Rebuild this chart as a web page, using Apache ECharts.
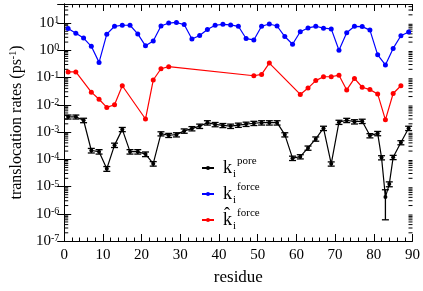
<!DOCTYPE html>
<html><head><meta charset="utf-8">
<script src="https://cdn.jsdelivr.net/npm/echarts@6/dist/echarts.min.js"></script>
<style>html,body{margin:0;padding:0;background:#fff}#c{width:423px;height:291px}</style>
</head><body><div id="c"></div>
<script>
// residues and rates
const poreX = [1,3,5,7,9,11,13,15,17,19,21,23,25,27,29,31,33,35,37,39,41,43,45,47,49,51,53,55,57,59,61,63,65,67,69,71,73,75,77,79,81,82,83,84,85,87,89];
const poreY = [0.0036,0.0036,0.0027,0.00021,0.00019,0.000045,0.00033,0.00125,0.00019,0.00019,0.000155,0.000069,0.00087,0.00076,0.00080,0.0011,0.00134,0.00165,0.0022,0.0019,0.00175,0.00165,0.0018,0.00195,0.0021,0.0022,0.0022,0.0022,0.0008,0.00011,0.000125,0.00026,0.00056,0.00138,0.000068,0.0023,0.0027,0.0024,0.0025,0.00074,0.00089,0.000115,0.0000041,0.0000123,0.000118,0.00041,0.00138];
const poreErr = [0.0006,0.0006,0.0005,0.00004,0.000035,0.000009,0.00006,0.00022,0.000035,0.000035,0.00003,0.000013,0.00015,0.00013,0.00014,0.0002,0.00024,0.0003,0.0004,0.00034,0.0003,0.0003,0.00032,0.00035,0.00037,0.0004,0.0004,0.0004,0.00014,0.00002,0.000022,0.000046,0.0001,0.00025,0.000012,0.0004,0.00048,0.00043,0.00045,0.00013,0.00016,0.00002,0.0000035,0.0000025,0.000021,0.00007,0.00025];
const forceX = [1,3,5,7,9,11,13,15,17,19,21,23,25,27,29,31,33,35,37,39,41,43,45,47,49,51,53,55,57,59,61,63,65,67,69,71,73,75,77,79,81,83,85,87,89];
const forceY = [6.3,4.2,2.8,1.4,0.36,3.9,7.6,8.3,8.3,4.0,1.46,2.2,7.8,10,10.5,8.8,2.6,3.5,5.8,8.3,9.0,8.5,7.6,2.7,2.4,7.6,9.2,7.8,3.2,1.66,4.8,6.6,7.6,6.5,6.1,1.0,4.4,7.6,7.4,5.5,0.68,0.29,1.17,3.4,4.7];
const hatX = [1,3,7,9,11,13,15,21,23,25,27,49,51,53,61,63,65,67,69,71,73,75,77,79,81,83,85,87];
const hatY = [0.16,0.16,0.029,0.016,0.008,0.010,0.050,0.0030,0.081,0.21,0.25,0.116,0.13,0.34,0.024,0.041,0.077,0.107,0.107,0.122,0.035,0.093,0.044,0.036,0.025,0.0028,0.026,0.050];
const xTicks = [0,10,20,30,40,50,60,70,80,90];
const yExponents = [-7,-6,-5,-4,-3,-2,-1,0,1];

const FONT = 'Liberation Serif';
const chart = echarts.init(document.getElementById('c'), null, {renderer:'canvas'});

const minorVals = [];
for (let e = -7; e <= 1; e++) for (let k = 2; k <= 9; k++) { const v = k * Math.pow(10, e); if (v < 50) minorVals.push([0, v]); }

function yFmt(v) {
  const l = Math.log10(v), e = Math.round(l);
  if (Math.abs(l - e) > 0.01 || yExponents.indexOf(e) < 0) return '';
  return '{b|10}{s|' + e + '}';
}

const axisLine = {show:true, lineStyle:{color:'#000', width:1}};
const option = {
  animation:false,
  backgroundColor:'#fff',
  grid:{left:62, right:9, top:4, bottom:42},
  xAxis:[
    {type:'value', min:0, max:90, interval:10, position:'bottom',
     axisLine:axisLine, splitLine:{show:false},
     axisTick:{inside:true, length:7, lineStyle:{color:'#000'}},
     minorTick:{show:true, splitNumber:5, length:3.5, lineStyle:{color:'#000'}},
     axisLabel:{fontFamily:FONT, fontSize:15, color:'#000', margin:7,
       formatter:v => xTicks.indexOf(v) >= 0 ? String(v) : ''},
     name:'residue', nameLocation:'middle', nameGap:28,
     nameTextStyle:{fontFamily:FONT, fontSize:17, color:'#000'}},
    {type:'value', min:0, max:90, interval:10, position:'top',
     axisLine:axisLine, splitLine:{show:false},
     axisTick:{inside:true, length:7, lineStyle:{color:'#000'}},
     minorTick:{show:true, splitNumber:5, length:3.5, lineStyle:{color:'#000'}},
     axisLabel:{show:false}}
  ],
  yAxis:[
    {type:'log', logBase:10, min:1e-7, max:50, interval:1, position:'left',
     axisLine:axisLine, splitLine:{show:false},
     axisTick:{inside:true, length:7, lineStyle:{color:'#000'}},
     axisLabel:{formatter:yFmt, margin:5, color:'#000',
       rich:{b:{fontFamily:FONT, fontSize:15, color:'#000'},
             s:{fontFamily:FONT, fontSize:10, color:'#000', verticalAlign:'top', lineHeight:10, padding:[0,0,6,0]}}},
     name:'{t|translocation rates (ps}{s|-1}{t|)}', nameLocation:'middle', nameGap:33,
     nameTextStyle:{rich:{t:{fontFamily:FONT, fontSize:16, color:'#000'},
                          s:{fontFamily:FONT, fontSize:10, color:'#000', padding:[0,0,8,0]}}}},
    {type:'log', logBase:10, min:1e-7, max:50, interval:1, position:'right',
     axisLine:axisLine, splitLine:{show:false},
     axisTick:{inside:true, length:7, lineStyle:{color:'#000'}},
     axisLabel:{show:false}}
  ],
  legend:{
    orient:'vertical', left:196, top:151, itemGap:2, itemWidth:12, itemHeight:5,
    data:['pore','force','hat'],
    formatter:function(n){
      if (n === 'pore') return '{k|k}{i|i}{s|pore}';
      if (n === 'force') return '{k|k}{i|i}{s|force}';
      return '{k|k\u0302}{i|i}{s|force}';
    },
    textStyle:{rich:{
      k:{fontFamily:FONT, fontSize:18, color:'#000', lineHeight:24, padding:[0,0,0,4]},
      i:{fontFamily:FONT, fontSize:11, color:'#000', verticalAlign:'bottom', lineHeight:11, padding:[8,0,0,1]},
      s:{fontFamily:FONT, fontSize:11, color:'#000', verticalAlign:'top', lineHeight:11, padding:[0,0,6,1]}
    }}
  },
  series:[
    {name:'minor', type:'custom', silent:true, xAxisIndex:0, yAxisIndex:0, data:minorVals, z:1,
     renderItem:function(params, api){
       const v = api.value(1);
       const l = api.coord([0, v]), r = api.coord([90, v]);
       return {type:'group', children:[
         {type:'line', shape:{x1:l[0], y1:l[1], x2:l[0]+4, y2:l[1]}, style:{stroke:'#000', lineWidth:1}},
         {type:'line', shape:{x1:r[0]-4, y1:r[1], x2:r[0], y2:r[1]}, style:{stroke:'#000', lineWidth:1}}
       ]};
     }},
    {name:'pore', type:'line', data:poreX.map((x,i)=>[x,poreY[i]]), color:'#000',
     symbol:'circle', symbolSize:4, lineStyle:{color:'#000', width:1.2}, itemStyle:{color:'#000'}, z:3},
    {name:'poreErr', type:'custom', silent:true, data:poreX.map((x,i)=>[x, poreY[i]-poreErr[i], poreY[i]+poreErr[i]]), z:4,
     renderItem:function(params, api){
       const x = api.value(0);
       const lo = api.coord([x, api.value(1)]), hi = api.coord([x, api.value(2)]);
       const w = 3.5;
       const st = {stroke:'#000', lineWidth:1.3};
       return {type:'group', children:[
         {type:'line', shape:{x1:lo[0], y1:lo[1], x2:hi[0], y2:hi[1]}, style:st},
         {type:'line', shape:{x1:lo[0]-w, y1:lo[1], x2:lo[0]+w, y2:lo[1]}, style:st},
         {type:'line', shape:{x1:hi[0]-w, y1:hi[1], x2:hi[0]+w, y2:hi[1]}, style:st}
       ]};
     }},
    {name:'force', type:'line', data:forceX.map((x,i)=>[x,forceY[i]]), color:'#0000ff',
     symbol:'circle', symbolSize:5, lineStyle:{color:'#0000ff', width:1.2}, itemStyle:{color:'#0000ff'}, z:3},
    {name:'hat', type:'line', data:hatX.map((x,i)=>[x,hatY[i]]), color:'#ff0000',
     symbol:'circle', symbolSize:5, lineStyle:{color:'#ff0000', width:1.2}, itemStyle:{color:'#ff0000'}, z:3}
  ]
};
chart.setOption(option);
</script></body></html>
